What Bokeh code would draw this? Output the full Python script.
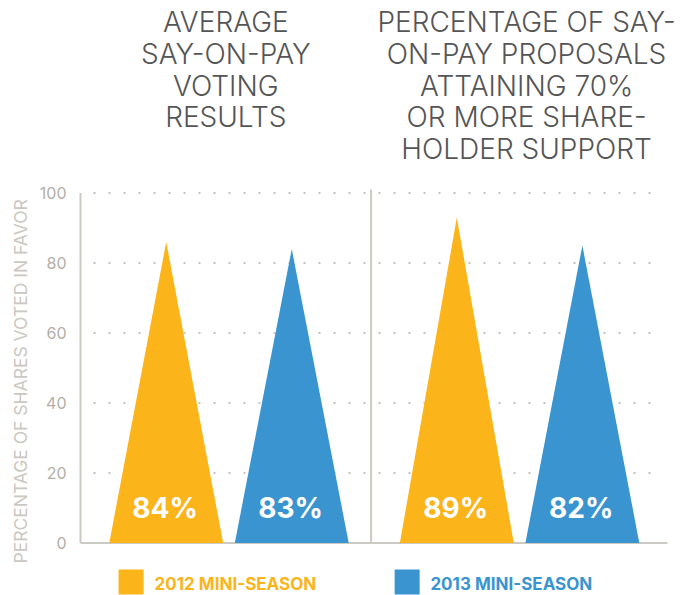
from bokeh.plotting import figure
from bokeh.models import Range1d, FixedTicker, Title
from bokeh.embed import file_html
from bokeh.resources import INLINE
from bokeh.core.properties import value

# ---------------- data ----------------
panel_titles = [
    ["AVERAGE", "SAY-ON-PAY", "VOTING", "RESULTS"],
    ["PERCENTAGE OF SAY-", "ON-PAY PROPOSALS", "ATTAINING 70%", "OR MORE SHARE-", "HOLDER SUPPORT"],
]
series_names = ["2012 MINI-SEASON", "2013 MINI-SEASON"]
label_2012 = [84, 89]          # printed values
label_2013 = [83, 82]
peak_2012 = [86, 93]           # drawn peak heights
peak_2013 = [84, 85]
y_ticks = [0, 20, 40, 60, 80, 100]
y_title = "PERCENTAGE OF SHARES VOTED IN FAVOR"

# ---------------- style ----------------
FONT = "Inter"
TITLE_FONT = "'Inter Light', Inter"
YELLOW = "#fbb41a"
BLUE = "#3a94d0"
TITLE_C = "#555555"
AXIS_C = "#cdc9c3"
TICK_C = "#b3aea6"
YLAB_C = "#cbc7c1"
GRID_C = "#c6c2bc"

PX_X = 290.6
PX_Y = 3.5
W, H = 680, 595
LEFT = 78
RIGHT = 0
x0 = -2 / PX_X
x1 = x0 + (W - LEFT - RIGHT) / PX_X
ZERO = 542.5
y1 = ZERO / PX_Y
y0 = -(H - ZERO) / PX_Y


def py(page_y):
    return (ZERO - page_y) / PX_Y


p = figure(width=W, height=H, x_range=Range1d(x0, x1), y_range=Range1d(y0, y1),
           min_border_left=LEFT, min_border_right=RIGHT, min_border_top=0, min_border_bottom=0,
           x_axis_location=None, output_backend="svg", toolbar_location=None,
           outline_line_color=None, background_fill_color="white", border_fill_color="white")

# y axis
ax = p.yaxis[0]
ax.ticker = FixedTicker(ticks=y_ticks)
ax.axis_line_color = None
ax.major_tick_line_color = None
ax.minor_tick_line_color = None
ax.major_tick_out = 0
ax.major_tick_in = 0
ax.major_label_standoff = 12
ax.major_label_text_font = FONT
ax.major_label_text_font_size = "16px"
ax.major_label_text_color = TICK_C

# y axis title (vertical, along the left side)
p.add_layout(Title(text=y_title, align="left", offset=32, text_font=FONT,
                   text_font_size="17.5px", text_font_style="normal",
                   text_color=YLAB_C, standoff=12), "left")

# dotted grid lines at the y ticks (inside the plotting area)
p.xgrid.visible = False
p.ygrid.visible = False
gy = y_ticks[1:]
p.segment(x0=[13 / PX_X] * len(gy), y0=gy, x1=[2.003] * len(gy), y1=gy,
          line_color=GRID_C, line_width=2, line_dash="2 13")

# axis frame lines
p.segment(x0=[0, 0, 1.0], y0=[0, 0, 0], x1=[0, 2.02, 1.0], y1=[100, 0, 101],
          line_color=AXIS_C, line_width=2)

# triangles
offsets = [0.295, 0.727]
hw = 0.196
xs, ys, cols = [], [], []
for g in range(2):
    for s, (peaks, col) in enumerate([(peak_2012, YELLOW), (peak_2013, BLUE)]):
        c = g + offsets[s]
        xs.append([c - hw, c, c + hw])
        ys.append([0, peaks[g], 0])
        cols.append(col)
p.patches(xs=xs, ys=ys, fill_color=cols, line_color=None)

# value labels
lx, lt = [], []
for g in range(2):
    for s, labs in enumerate([label_2012, label_2013]):
        lx.append(g + offsets[s] - 0.004)
        lt.append(f"{labs[g]}%")
p.text(x=lx, y=[py(507)] * len(lx), text=lt, text_color="white", text_font=value(FONT),
       text_font_size="28px", text_font_style="bold", text_align="center",
       text_baseline="alphabetic")

# panel titles
title_x = [0.5, 1.535]
pitch = 31.75
tx, ty, tt = [], [], []
for g, lines in enumerate(panel_titles):
    for i, line in enumerate(lines):
        tx.append(title_x[g])
        ty.append(py(21.5 + i * pitch))
        tt.append(line)
p.text(x=tx, y=ty, text=tt, text_color=TITLE_C, text_font=value(TITLE_FONT),
       text_font_size="28px", text_align="center", text_baseline="alphabetic")

# legend
sq_x = [0.174, 1.124]
p.rect(x=sq_x, y=[py(581.5)] * 2, width=25, height=25, width_units="screen",
       height_units="screen", fill_color=[YELLOW, BLUE], line_color=None)
p.text(x=[0.255, 1.204], y=[py(583)] * 2, text=series_names, text_color=[YELLOW, BLUE],
       text_font=value(FONT), text_font_size="17px", text_font_style="bold",
       text_align="left", text_baseline="alphabetic")

open("out.html", "w").write(file_html(p, INLINE))
